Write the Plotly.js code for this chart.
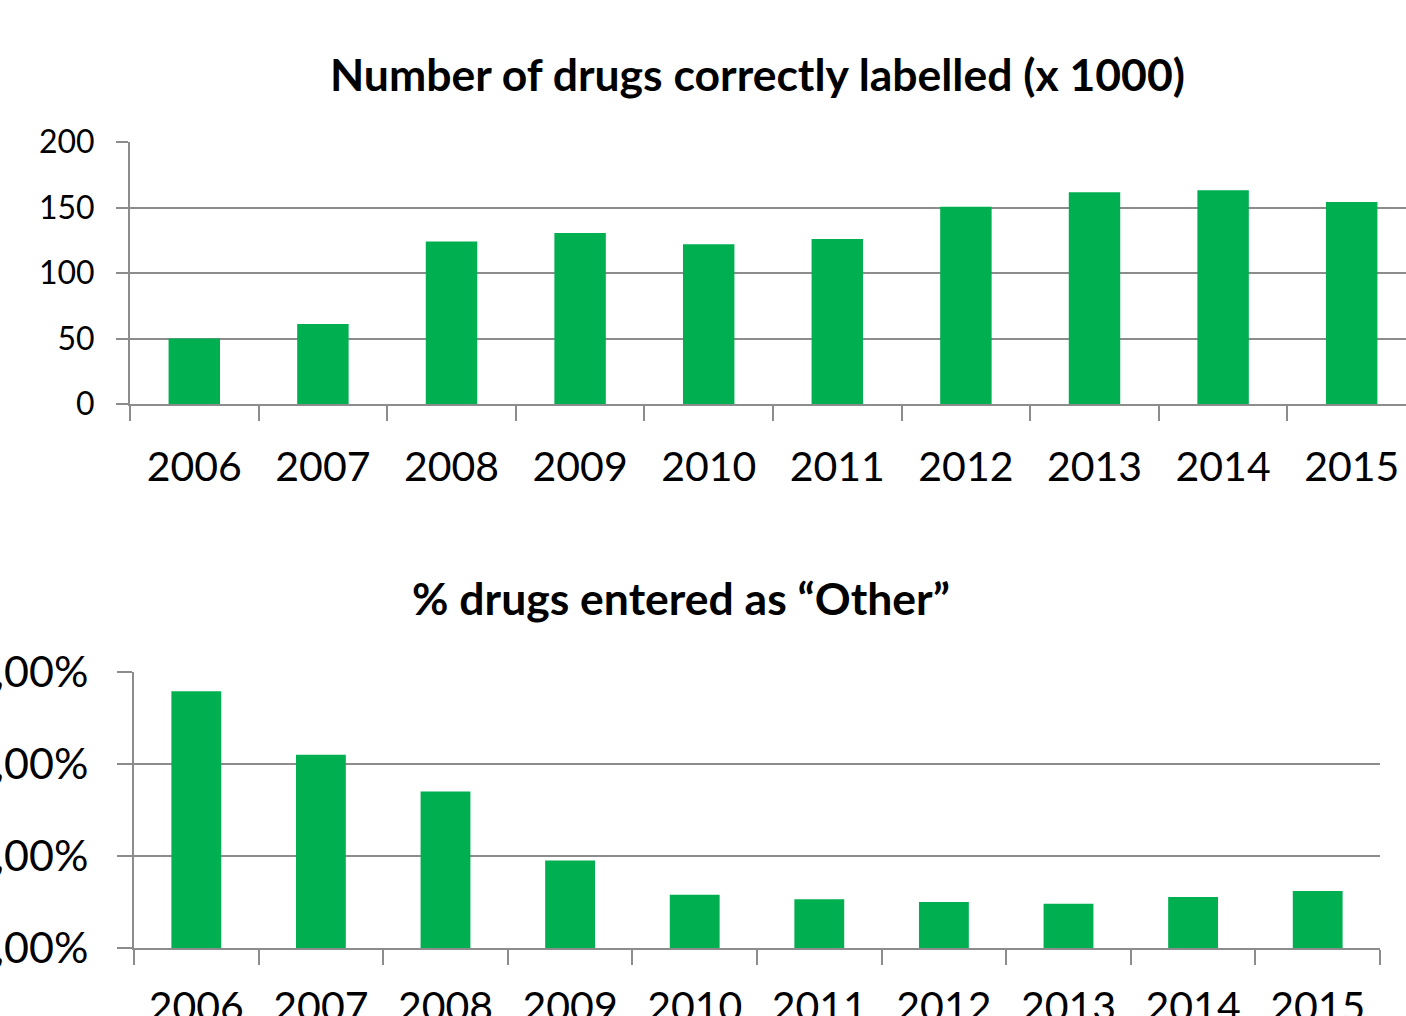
<!DOCTYPE html>
<html>
<head>
<meta charset="utf-8">
<script src="https://cdn.plot.ly/plotly-3.0.1.min.js"></script>
<style>
html, body { margin:0; padding:0; overflow:hidden; background:#fff; }
#chart { width:1500px; height:1100px; }
</style>
</head>
<body>
<div id="chart"></div>
<script>
const years = ["2006","2007","2008","2009","2010","2011","2012","2013","2014","2015"];
const correctlyLabelled = [50, 61, 124, 130.5, 122, 126, 150.5, 161.7, 163.2, 154.2];
const otherPct = [2.79, 2.10, 1.70, 0.95, 0.58, 0.53, 0.50, 0.48, 0.555, 0.62];
const topTicks = [0, 50, 100, 150, 200];
const bottomTickVals = [0, 1, 2, 3];
const bottomTickText = ["0,00%", "1,00%", "2,00%", "3,00%"];
const titleTop = "Number of drugs correctly labelled (x 1000)";
const titleBottom = "% drugs entered as \u201cOther\u201d";

const W = 1500, H = 1100;
const px = v => v / W;
const py = v => 1 - v / H;

const green = "#00AF50";
const grey = "#8c8c8c";
const fam = "Lato, 'Open Sans', sans-serif";

const data = [
  { type:"bar", x: years, y: correctlyLabelled, xaxis:"x", yaxis:"y",
    marker:{color:green, line:{width:0}}, hoverinfo:"x+y" },
  { type:"bar", x: years, y: otherPct, xaxis:"x2", yaxis:"y2",
    marker:{color:green, line:{width:0}}, hoverinfo:"x+y" }
];

const xCommon = {
  type:"category", showgrid:false, zeroline:false,
  showline:true, linecolor:grey, linewidth:2,
  ticks:"outside", tickson:"boundaries", ticklen:15, tickwidth:2, tickcolor:grey,
  tickfont:{family:fam, size:41, color:"#000"}, fixedrange:true
};
const yCommon = {
  showgrid:true, gridcolor:grey, gridwidth:2, zeroline:false,
  showline:true, linecolor:grey, linewidth:2,
  ticks:"outside", tickwidth:2, tickcolor:grey, fixedrange:true
};

const layout = {
  width:W, height:H,
  margin:{l:0, r:0, t:0, b:0},
  paper_bgcolor:"#fff", plot_bgcolor:"#fff",
  showlegend:false, bargap:0.6,
  xaxis: Object.assign({}, xCommon, {domain:[px(130), px(1416)], anchor:"y", range:[-0.5, 9.5], ticklabelstandoff:26}),
  yaxis: Object.assign({}, yCommon, {domain:[py(404), py(142)], anchor:"x", range:[0,200],
    tickvals: topTicks, ticklen:12, tickfont:{family:fam, size:32, color:"#000"}, ticklabelstandoff:15}),
  xaxis2: Object.assign({}, xCommon, {domain:[px(134), px(1380)], anchor:"y2", range:[-0.5, 9.5], ticklabelstandoff:22}),
  yaxis2: Object.assign({}, yCommon, {domain:[py(948), py(672)], anchor:"x2", range:[0,3],
    tickvals: bottomTickVals, ticktext: bottomTickText, ticklen:15,
    tickfont:{family:fam, size:43, color:"#000"}, ticklabelstandoff:20}),
  annotations:[
    { text:"<b>"+titleTop+"</b>", xref:"paper", yref:"paper", x:px(757), y:py(73),
      xanchor:"center", yanchor:"middle", showarrow:false,
      font:{family:fam, size:44.5, color:"#000"} },
    { text:"<b>"+titleBottom+"</b>", xref:"paper", yref:"paper", x:px(681), y:py(598),
      xanchor:"center", yanchor:"middle", showarrow:false,
      font:{family:fam, size:44.5, color:"#000"} }
  ]
};

Plotly.newPlot("chart", data, layout, {displayModeBar:false, staticPlot:true});
</script>
</body>
</html>
